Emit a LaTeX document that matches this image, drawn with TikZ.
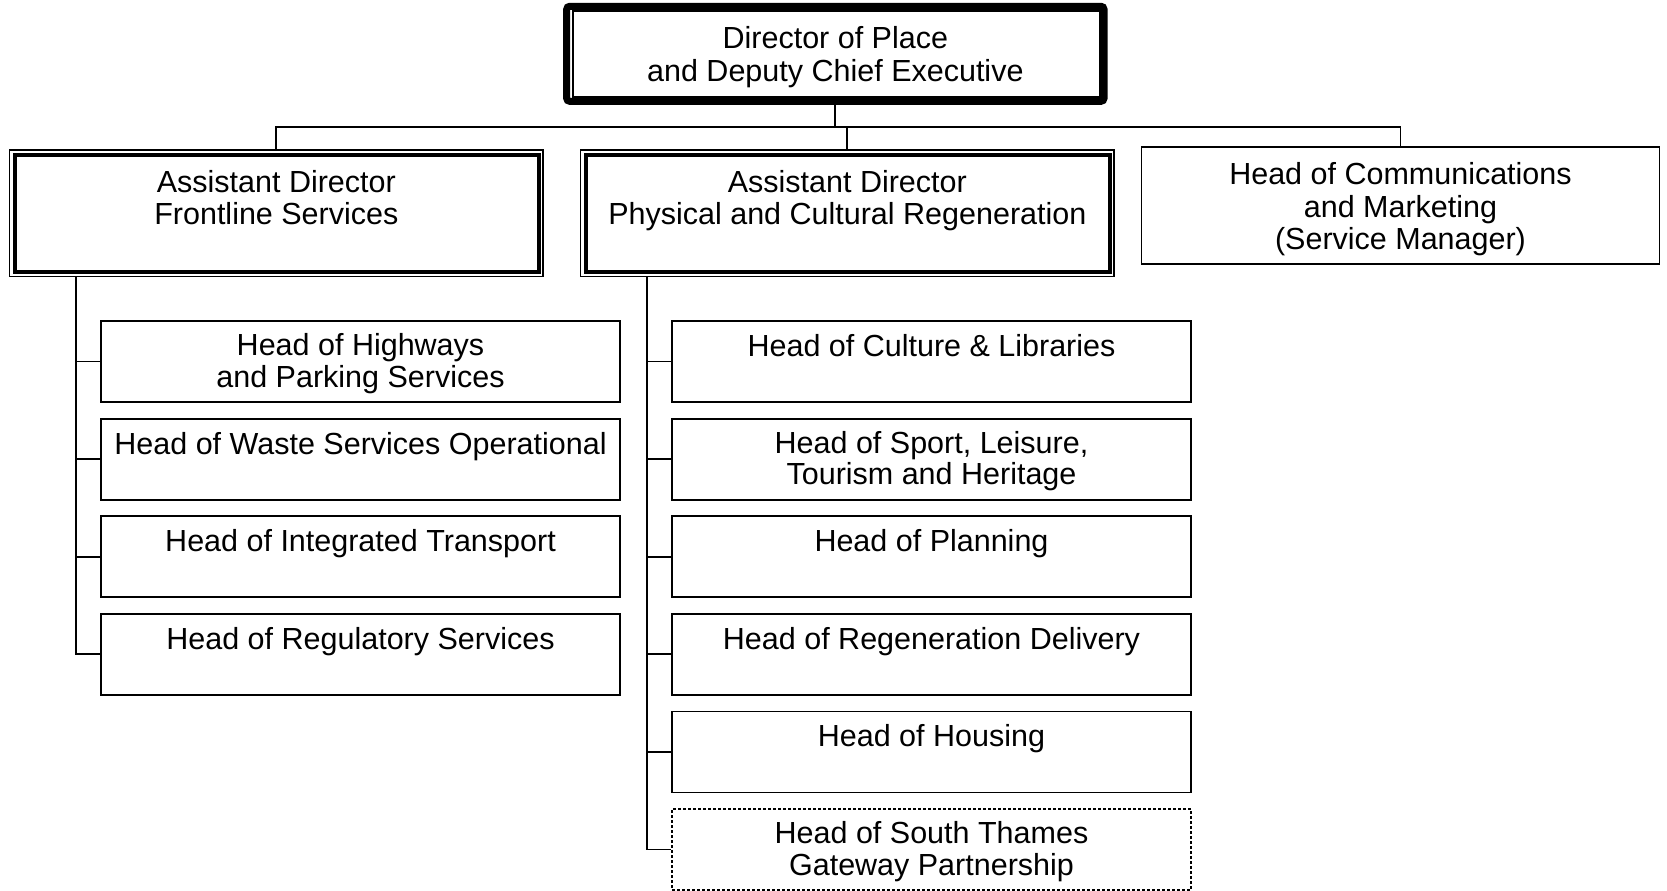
\documentclass[tikz,border=0pt]{standalone}
\usepackage{fontspec}
\setmainfont{Liberation Sans}
\lineskiplimit=-100pt
\newcommand\ls{\rule[-0.16\baselineskip]{0pt}{\baselineskip}}
\newcommand\lsc{\rule[-0.095\baselineskip]{0pt}{\baselineskip}}
\begin{document}
\begin{tikzpicture}[x=0.5pt,y=-0.5pt,
  txt/.style={align=center, inner sep=0pt},
  childbox/.style={txt, font=\fontsize{15.25pt}{15.6pt}\selectfont, draw, line width=0.9pt, minimum width=259.5pt, minimum height=40.5pt},
  dashbox/.style={childbox, dash pattern=on 1.5pt off 1pt},
  adbox/.style={txt, font=\fontsize{15.25pt}{16pt}\selectfont, draw, line width=0.65pt, minimum width=266.65pt, minimum height=63.15pt},
  adinner/.style={line width=2pt},
  conn/.style={line width=0.9pt},
  dirbox/.style={txt, font=\fontsize{15.25pt}{16.5pt}\selectfont, draw, line width=3.5pt, rounded corners=1.5pt, minimum width=268.65pt, minimum height=47.5pt},
  dirinner/.style={line width=1pt},
  commbox/.style={txt, font=\fontsize{15.25pt}{16.25pt}\selectfont, draw, line width=0.9pt, minimum width=259pt, minimum height=58.5pt}]
\useasboundingbox (0,0) rectangle (1667,890);

\node[dirbox] (dir) at (835.35,53.8) {\ls Director of Place\\\ls and Deputy Chief Executive};
\draw[dirinner] ([shift={(5pt,-4pt)}]dir.north west) rectangle ([shift={(-4pt,3.7pt)}]dir.south east);

\node[adbox] (adf) at (276.35,213.15) {\ls Assistant Director\\\ls Frontline Services\\\ls};
\draw[adinner] ([shift={(2.75pt,-2.65pt)}]adf.north west) rectangle ([shift={(-2.5pt,2.5pt)}]adf.south east);
\node[adbox] (adp) at (847.35,213.15) {\ls Assistant Director\\\ls Physical and Cultural Regeneration\\\ls};
\draw[adinner] ([shift={(2.75pt,-2.65pt)}]adp.north west) rectangle ([shift={(-2.5pt,2.5pt)}]adp.south east);

\node[commbox] (comm) at (1400.5,205.5) {\lsc Head of Communications\\\lsc and Marketing\\\lsc (Service Manager)};

\coordinate (bus) at (836,127);
\draw[conn] (dir.south) -- (dir.south |- bus);
\draw[conn] (adf.north) |- (bus) -| (comm.north);
\draw[conn] (adp.north) -- (adp.north |- bus);

\node[childbox] (h1) at (360.5,361.5) {\ls Head of Highways\\\ls and Parking Services};
\node[childbox] (h2) at (360.5,459.1) {\ls Head of Waste Services Operational\\\ls};
\node[childbox] (h3) at (360.5,556.7) {\ls Head of Integrated Transport\\\ls};
\node[childbox] (h4) at (360.5,654.3) {\ls Head of Regulatory Services\\\ls};

\node[childbox] (r1) at (931.5,361.5) {\ls Head of Culture \& Libraries\\\ls};
\node[childbox] (r2) at (931.5,459.1) {\ls Head of Sport, Leisure,\\\ls Tourism and Heritage};
\node[childbox] (r3) at (931.5,556.7) {\ls Head of Planning\\\ls};
\node[childbox] (r4) at (931.5,654.3) {\ls Head of Regeneration Delivery\\\ls};
\node[childbox] (r5) at (931.5,751.9) {\ls Head of Housing\\\ls};
\node[dashbox] (r6) at (931.5,849.5) {\ls Head of South Thames\\\ls Gateway Partnership};

\coordinate (lsp) at (76,0);
\coordinate (rsp) at (647,0);
\draw[conn] (lsp |- adf.south) |- (h4.west);
\foreach \n in {h1,h2,h3} \draw[conn] (lsp |- \n.west) -- (\n.west);
\draw[conn] (rsp |- adp.south) |- (r6.west);
\foreach \n in {r1,r2,r3,r4,r5} \draw[conn] (rsp |- \n.west) -- (\n.west);
\end{tikzpicture}
\end{document}
